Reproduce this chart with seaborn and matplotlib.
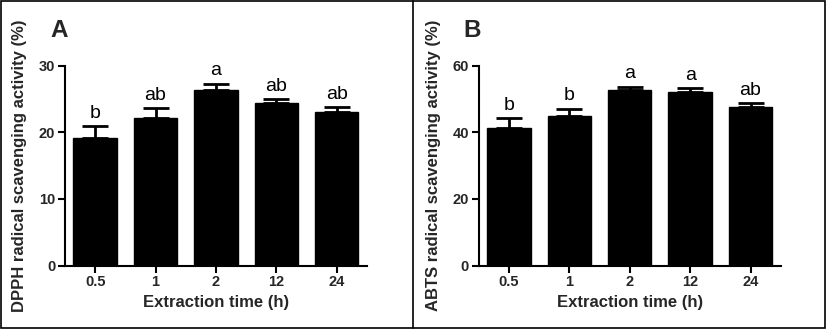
import matplotlib
matplotlib.use("Agg")
import matplotlib.pyplot as plt
import seaborn as sns
import numpy as np
import pandas as pd
from matplotlib.patches import Rectangle
from matplotlib.lines import Line2D

sns.set_theme(style="ticks")
plt.rcParams['font.family'] = ['Liberation Sans', 'DejaVu Sans']

times = ["0.5", "1", "2", "12", "24"]
dpph_mean = [19.1, 22.2, 26.3, 24.4, 23.0]
dpph_err = [1.8, 1.4, 1.0, 0.6, 0.8]
dpph_letters = ["b", "ab", "a", "ab", "ab"]
abts_mean = [41.2, 44.9, 52.6, 52.1, 47.7]
abts_err = [3.0, 2.2, 1.1, 1.2, 1.0]
abts_letters = ["b", "b", "a", "a", "ab"]

fig = plt.figure(figsize=(8.27, 3.30), dpi=100)

panels = [
    dict(rect=[0.0786, 0.195, 0.365, 0.606], mean=dpph_mean, err=dpph_err,
         letters=dpph_letters, ymax=30, ticks=[0, 10, 20, 30],
         ylabel="DPPH radical scavenging activity (%)", tag="A", tagx=0.072),
    dict(rect=[0.579, 0.195, 0.365, 0.606], mean=abts_mean, err=abts_err,
         letters=abts_letters, ymax=60, ticks=[0, 20, 40, 60],
         ylabel="ABTS radical scavenging activity (%)", tag="B", tagx=0.571),
]

for p in panels:
    ax = fig.add_axes(p["rect"])
    df = pd.DataFrame({"time": times, "value": p["mean"]})
    sns.barplot(data=df, x="time", y="value", color="black", width=0.72,
                errorbar=None, ax=ax, saturation=1, edgecolor="black")
    xs = np.arange(len(times))
    ax.errorbar(xs, p["mean"], yerr=[np.zeros(len(times)), p["err"]],
                fmt="none", ecolor="black", elinewidth=2, capsize=9.5, capthick=2)
    for x, m, e, lab in zip(xs, p["mean"], p["err"], p["letters"]):
        ax.text(x, m + e + p["ymax"] * 0.022, lab, ha="center", va="bottom",
                fontsize=14, color="black")
    ax.set_xlim(-0.5, 4.5)
    ax.set_ylim(0, p["ymax"])
    ax.set_yticks(p["ticks"])
    ax.set_xlabel("Extraction time (h)", fontsize=12, fontweight="bold", labelpad=4)
    ax.set_ylabel(p["ylabel"], fontsize=12, fontweight="bold")
    ax.yaxis.set_label_coords(-0.126, 0.5)
    for lbl in ax.get_xticklabels() + ax.get_yticklabels():
        lbl.set_fontweight("bold")
        lbl.set_fontsize(10.5)
    ax.tick_params(axis="both", length=5, width=1.5, color="black", pad=2)
    sns.despine(ax=ax)
    for s in ["left", "bottom"]:
        ax.spines[s].set_linewidth(1.5)
        ax.spines[s].set_color("black")
    ax.set_facecolor("white")
    fig.text(p["tagx"], 0.907, p["tag"], fontsize=17.5, fontweight="bold",
             ha="center", va="center")

# panel frames
fig.add_artist(Rectangle((0.0015, 0.006), 0.996, 0.99, transform=fig.transFigure,
                         fill=False, edgecolor="black", linewidth=1.2))
fig.add_artist(Line2D([0.4995, 0.4995], [0.006, 0.996], transform=fig.transFigure,
                      color="black", linewidth=1.2))

fig.savefig("out.png", dpi=100, facecolor="white")
